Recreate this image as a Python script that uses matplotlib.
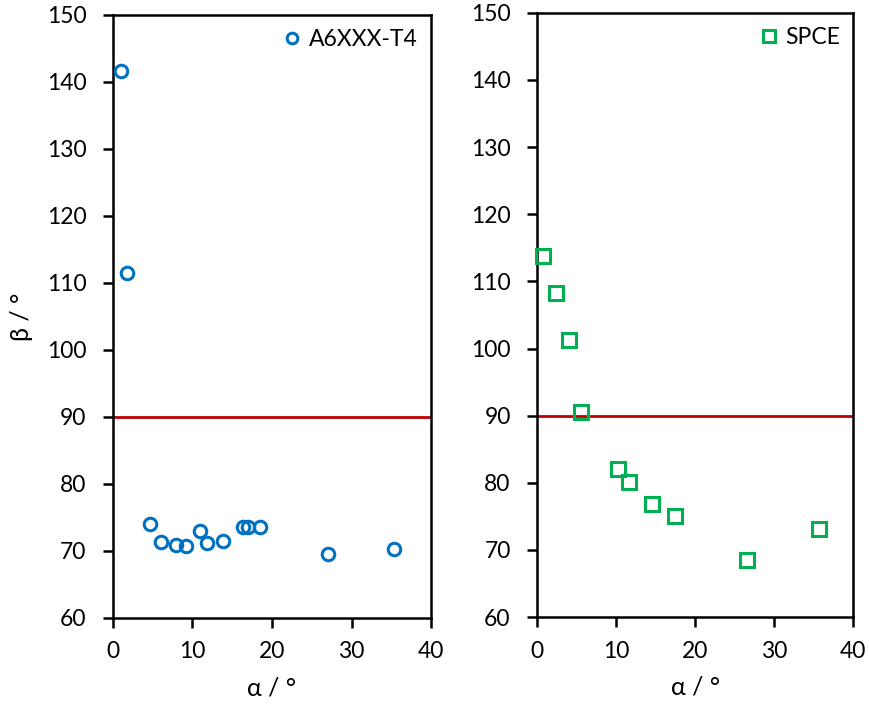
import matplotlib
matplotlib.use("Agg")
import matplotlib.pyplot as plt

plt.rcParams["font.family"] = ["Lato", "DejaVu Sans"]

# left panel: A6XXX-T4
a6_alpha = [1.0, 1.8, 4.6, 6.0, 7.9, 9.2, 11.0, 11.8, 13.8, 16.3, 17.0, 18.5, 27.0, 35.3]
a6_beta = [141.6, 111.5, 74.0, 71.3, 70.9, 70.8, 73.0, 71.2, 71.4, 73.6, 73.6, 73.6, 69.6, 70.3]

# right panel: SPCE
spce_alpha = [0.8, 2.4, 4.0, 5.5, 10.2, 11.6, 14.6, 17.5, 26.5, 35.7]
spce_beta = [113.8, 108.3, 101.3, 90.6, 82.0, 80.1, 76.8, 75.1, 68.5, 73.2]

ref_beta = 90
xticks = [0, 10, 20, 30, 40]
yticks = [60, 70, 80, 90, 100, 110, 120, 130, 140, 150]

fig = plt.figure(figsize=(8.69, 7.11), dpi=100)
ax1 = fig.add_axes([0.130, 0.131, 0.366, 0.848])
ax2 = fig.add_axes([0.618, 0.132, 0.364, 0.850])

panels = [
    (ax1, a6_alpha, a6_beta, "o", "#0070C0", "A6XXX-T4"),
    (ax2, spce_alpha, spce_beta, "s", "#00B050", "SPCE"),
]

for ax, x, y, mk, col, lab in panels:
    ax.plot(x, y, linestyle="none", marker=mk, markersize=9 if mk == "o" else 9.5,
            markerfacecolor="none", markeredgecolor=col, markeredgewidth=2.2,
            label=lab, clip_on=False, zorder=3)
    ax.axhline(ref_beta, color="#C00000", linewidth=2, zorder=2)
    ax.set_xlim(0, 40)
    ax.set_ylim(60, 150)
    ax.set_xticks(xticks)
    ax.set_yticks(yticks)
    ax.tick_params(direction="out", length=7, width=1.8, labelsize=16.5,
                   top=False, right=False)
    ax.tick_params(axis="y", pad=12)
    ax.tick_params(axis="x", pad=10)
    for s in ax.spines.values():
        s.set_linewidth(1.8)
    ax.set_xlabel("α / °", fontsize=18, labelpad=10)
    ax.legend(loc="upper right", frameon=False, fontsize=16.5, handlelength=0.6,
              handletextpad=0.4, borderaxespad=0.2, markerscale=0.85)

ax1.set_ylabel("β / °", fontsize=18, labelpad=10)

fig.savefig("out.png", dpi=100)
